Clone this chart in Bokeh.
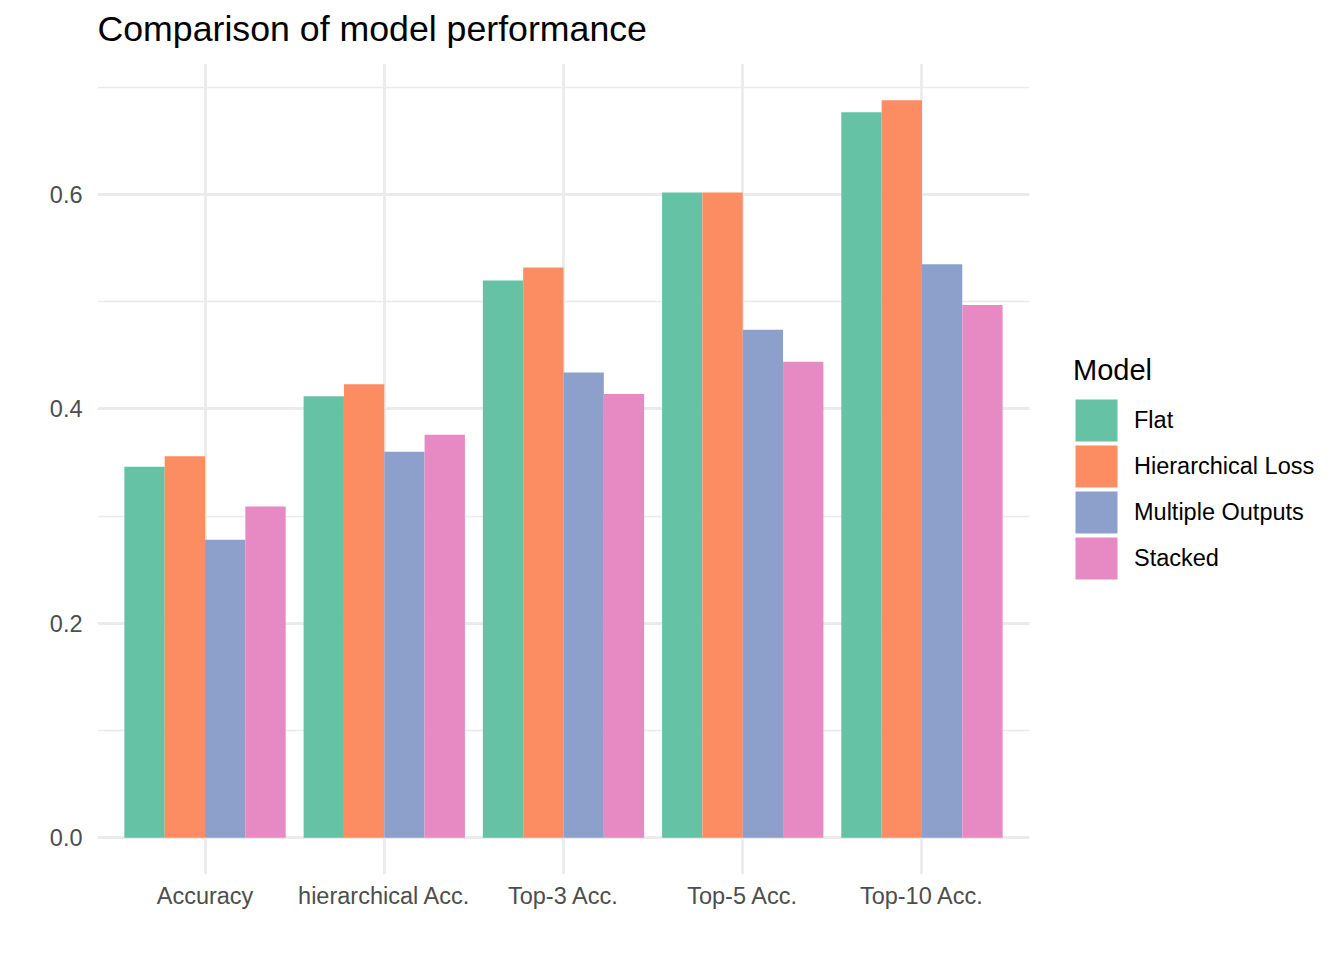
from bokeh.plotting import figure
from bokeh.models import (FactorRange, Range1d, SingleIntervalTicker, Legend, LegendItem,
                          ColumnDataSource, NumeralTickFormatter, Title)
from bokeh.transform import dodge
from bokeh.embed import file_html
from bokeh.resources import INLINE

categories = ["Accuracy", "hierarchical Acc.", "Top-3 Acc.", "Top-5 Acc.", "Top-10 Acc."]
models = ["Flat", "Hierarchical Loss", "Multiple Outputs", "Stacked"]
flat = [0.346, 0.412, 0.520, 0.602, 0.677]
hierarchical_loss = [0.356, 0.423, 0.532, 0.602, 0.688]
multiple_outputs = [0.278, 0.360, 0.434, 0.474, 0.535]
stacked = [0.309, 0.376, 0.414, 0.444, 0.497]
colors = ["#66C2A5", "#FC8D62", "#8DA0CB", "#E78AC3"]
title_text = "Comparison of model performance"

series = [flat, hierarchical_loss, multiple_outputs, stacked]
FONT = "Liberation Sans"

x_range = FactorRange(factors=categories, range_padding=0.1, range_padding_units="absolute")
ymax = max(max(s) for s in series)
pad = ymax * 0.05
p = figure(frame_width=932, frame_height=811, x_range=x_range, y_range=Range1d(-pad, ymax + pad),
           output_backend="svg", toolbar_location=None, title=None,
           min_border_left=97, min_border_right=299, min_border_top=63, min_border_bottom=70)

# small spacer between frame and title, then the title itself
p.add_layout(Title(text=" ", text_font_size="1px", standoff=12), "above")
p.add_layout(Title(text=title_text, text_font=FONT, text_font_size="35.7px",
                   text_font_style="normal", text_color="black", align="left",
                   standoff=0), "above")

bar_w = 0.9 / len(models)
renderers = []
for i, (m, s, c) in enumerate(zip(models, series, colors)):
    src = ColumnDataSource(dict(cat=categories, val=s))
    off = (i - (len(models) - 1) / 2) * bar_w
    p.vbar(x=dodge("cat", off, range=p.x_range), top="val", bottom=0, width=bar_w,
           source=src, fill_color=c, line_color=None)
    # legend key proxy (value NaN, nothing drawn in the plot): square with matching outline
    key = p.vbar(x=[categories[0]], top=[float("nan")], bottom=0, width=bar_w,
                 fill_color=c, line_color=c, line_width=5.2, line_join="miter")
    renderers.append((m, key))

p.outline_line_color = None
p.background_fill_color = "white"
p.border_fill_color = "white"

for ax in (p.xaxis[0], p.yaxis[0]):
    ax.axis_line_color = None
    ax.major_tick_line_color = None
    ax.minor_tick_line_color = None
    ax.major_label_text_color = "#4D4D4D"
    ax.major_label_text_font = FONT
    ax.major_label_text_font_size = "23.5px"

p.yaxis[0].ticker = SingleIntervalTicker(interval=0.2, num_minor_ticks=2)
p.yaxis[0].formatter = NumeralTickFormatter(format="0.0")
p.yaxis[0].major_label_standoff = 9
p.xaxis[0].major_label_standoff = 2

p.xgrid.grid_line_color = "#EBEBEB"
p.xgrid.grid_line_width = 2.8
p.ygrid.grid_line_color = "#EBEBEB"
p.ygrid.grid_line_width = 2.8
p.ygrid.minor_grid_line_color = "#EBEBEB"
p.ygrid.minor_grid_line_width = 1.4

legend = Legend(items=[LegendItem(label=m, renderers=[r]) for m, r in renderers],
                location=(44, 293), title="Model",
                glyph_width=46, glyph_height=46, spacing=0, label_height=46,
                label_standoff=15, padding=0, margin=0,
                border_line_color=None, background_fill_alpha=0,
                label_text_font=FONT, label_text_font_size="23.5px", label_text_color="black",
                title_text_font=FONT, title_text_font_size="29px", title_text_color="black",
                title_text_font_style="normal", title_standoff=10)
p.add_layout(legend, "right")

open("out.html", "w").write(file_html(p, INLINE))
